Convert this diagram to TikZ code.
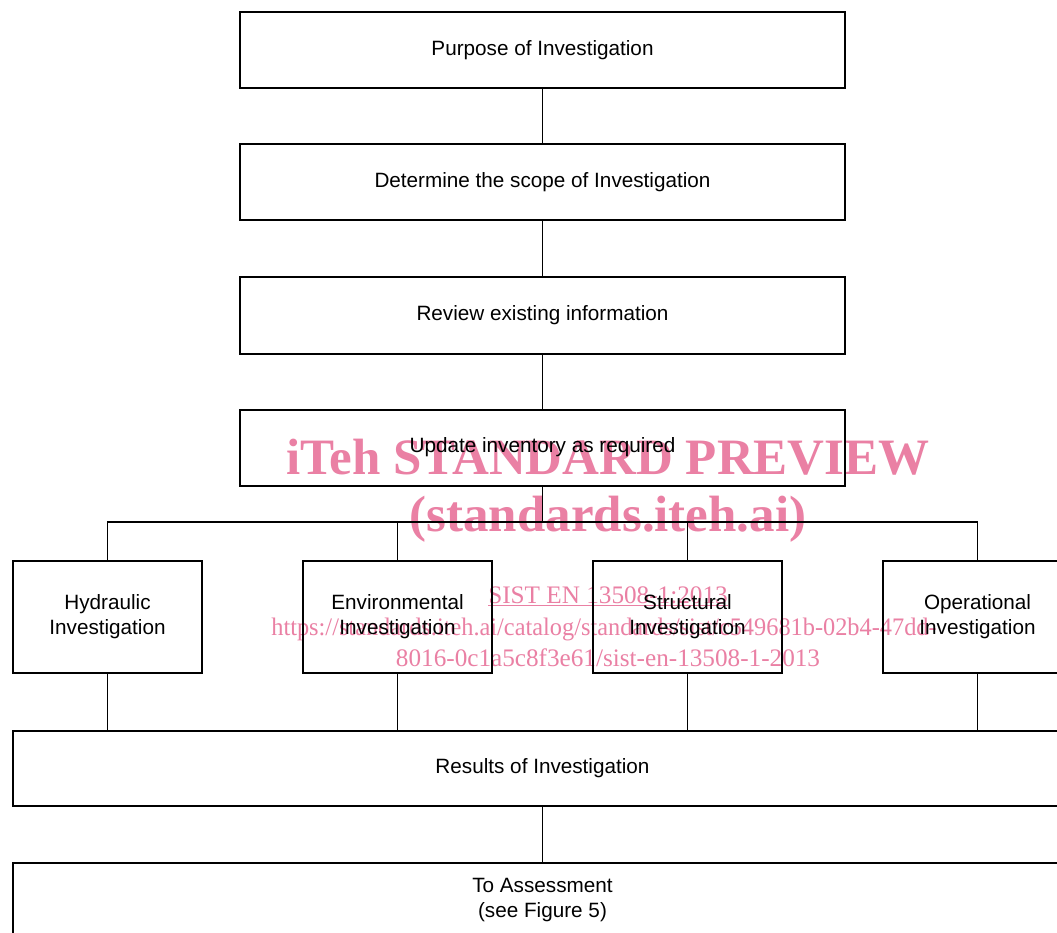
\documentclass[tikz,border=0pt]{standalone}
\usepackage{fontspec}
\setmainfont{Liberation Sans}
\newfontfamily\wmfont{Liberation Serif}
\definecolor{wmpink}{RGB}{234,128,164}
\tikzset{
  box/.style={draw=black, line width=2pt, rectangle, inner sep=0pt, align=center,
              font=\fontsize{20.7}{25}\selectfont},
  topbox/.style={box, minimum width=605pt, minimum height=76pt},
  midbox/.style={box, minimum width=189pt, minimum height=112pt},
  widebox/.style={box, minimum width=1059pt, minimum height=75pt},
  conn/.style={draw=black, line width=1.3pt},
  wmbig/.style={text=wmpink, font=\wmfont\bfseries\fontsize{51}{55}\selectfont, inner sep=0pt},
  wmsmall/.style={text=wmpink, font=\wmfont\fontsize{25.2}{28}\selectfont, inner sep=0pt}
}
\begin{document}
\begin{tikzpicture}[x=1pt,y=-1pt]
\useasboundingbox (0,0) rectangle (1057,933);
\clip (0,0) rectangle (1057,933);
\fill[white] (0,0) rectangle (1057,933);
% watermark (underneath the diagram)
\node[wmbig, anchor=base] (wm1) at (608,474) {iTeh STANDARD PREVIEW};
\node[wmbig, anchor=base] (wm2) at (608,531) {(standards.iteh.ai)};
\node[wmsmall, anchor=base] (wm3) at (608,603) {\underline{SIST EN 13508-1:2013}};
\node[wmsmall, anchor=base, xscale=0.966] (wm4) at (604,635) {https://standards.iteh.ai/catalog/standards/sist/c549681b-02b4-47dd-};
\node[wmsmall, anchor=base] (wm5) at (608,666) {8016-0c1a5c8f3e61/sist-en-13508-1-2013};
% diagram
\node[topbox] (pur) at (542.5,50) {Purpose of Investigation};
\node[topbox] (det) at (542.5,182.5) {Determine the scope of Investigation};
\node[topbox] (rev) at (542.5,315.5) {Review existing information};
\node[topbox] (upd) at (542.5,447.5) {Update inventory as required};
\node[midbox] (hyd) at (107.5,617) {Hydraulic\\Investigation};
\node[midbox] (env) at (397.5,617) {Environmental\\Investigation};
\node[midbox] (str) at (687.5,617) {Structural\\Investigation};
\node[midbox] (ope) at (977.5,617) {Operational\\Investigation};
\node[widebox] (res) at (542.5,768.5) {Results of Investigation};
\node[widebox] (ass) at (542.5,900.5) {To Assessment\\(see Figure 5)};
\coordinate (bus) at (542.5,522);
\draw[conn] (pur.south) -- (det.north);
\draw[conn] (det.south) -- (rev.north);
\draw[conn] (rev.south) -- (upd.north);
\draw[conn] (upd.south) -- (bus);
\draw[conn] (hyd.north) |- (bus) -| (ope.north);
\draw[conn] (env.north) -- (env.north |- bus);
\draw[conn] (str.north) -- (str.north |- bus);
\draw[conn] (hyd.south) -- (hyd.south |- res.north);
\draw[conn] (env.south) -- (env.south |- res.north);
\draw[conn] (str.south) -- (str.south |- res.north);
\draw[conn] (ope.south) -- (ope.south |- res.north);
\draw[conn] (res.south) -- (ass.north);
\end{tikzpicture}
\end{document}
